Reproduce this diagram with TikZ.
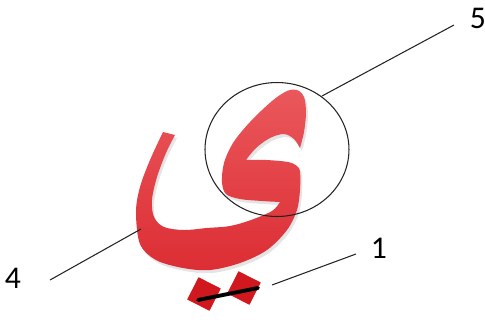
\documentclass[tikz,border=0pt]{standalone}
\usepackage{fontspec}
\setmainfont{Carlito}
\usepackage{tikz}
\usetikzlibrary{calc}
\definecolor{yeh}{RGB}{220,45,52}
\definecolor{yehlt}{RGB}{234,88,92}
\definecolor{dotred}{RGB}{208,24,30}
\definecolor{lead}{RGB}{35,35,35}
% outline of the letter, in pixel units
\newcommand{\yehoutline}{%
  plot[smooth,tension=0.55] coordinates {(163,132) (150,160) (140,187) (136,212) (140,244) (156,260) (183,268) (210,270) (240,263) (267,250) (287,230) (297,210) (300,190) (300,172) (297,166) (288,162) (266,160) (246,160)}
  -- plot[smooth,tension=0.55] coordinates {(246,160) (256,148) (270,138) (284,134) (294,139) (300,148)}
  -- plot[smooth,tension=0.55] coordinates {(300,148) (304,132) (306,113) (304,97) (297,90) (287,91) (272,101) (250,122) (233,143) (224,163) (222,182) (226,194) (240,199) (262,201) (280,202)}
  -- plot[smooth,tension=0.55] coordinates {(280,202) (272,211) (251,220) (230,226) (207,228) (184,230) (164,227) (154,217) (152,200) (157,177) (166,153) (175,135)}
  -- cycle}

\begin{document}
\begin{tikzpicture}[x=0.02cm,y=-0.02cm,
  leader/.style={draw=lead,line width=0.6pt},
  num/.style={font=\fontsize{18}{20}\selectfont,inner sep=0pt},
  dotsq/.style={fill=dotred,minimum size=0.5cm,inner sep=0pt,rotate=-27}]
  \useasboundingbox (0,0) rectangle (485,322);
  % letter body with a soft shadow
  \fill[black!30,opacity=0.35,shift={(2,3)}] \yehoutline;
  \shade[top color=yehlt,bottom color=yeh] \yehoutline;
  % the two dots and the bar across them
  \node[dotsq] (d1) at (204,294) {};
  \node[dotsq] (d2) at (244,288) {};
  \coordinate (b1) at (198,300);
  \coordinate (b2) at (258,288);
  \draw[line width=2.2pt,line cap=round] (b1) -- (b2);
  % circle round the head
  \coordinate (hc) at (277,149.5);
  \draw[leader] (hc) ellipse [x radius=1.44cm,y radius=1.34cm];
  % labels and leader lines
  \node[num] (n5) at (478,18) {5};
  \node[num] (n4) at (13,278) {4};
  \node[num] (n1) at (379,248) {1};
  \coordinate (h5) at (322,96);  \coordinate (e5) at (454,25);
  \coordinate (h4) at (141,229); \coordinate (e4) at (50,280);
  \coordinate (h1) at (272,285); \coordinate (e1) at (356,254);
  \draw[leader] (h5) -- (e5);
  \draw[leader] (h4) -- (e4);
  \draw[leader] (h1) -- (e1);
\end{tikzpicture}
\end{document}
